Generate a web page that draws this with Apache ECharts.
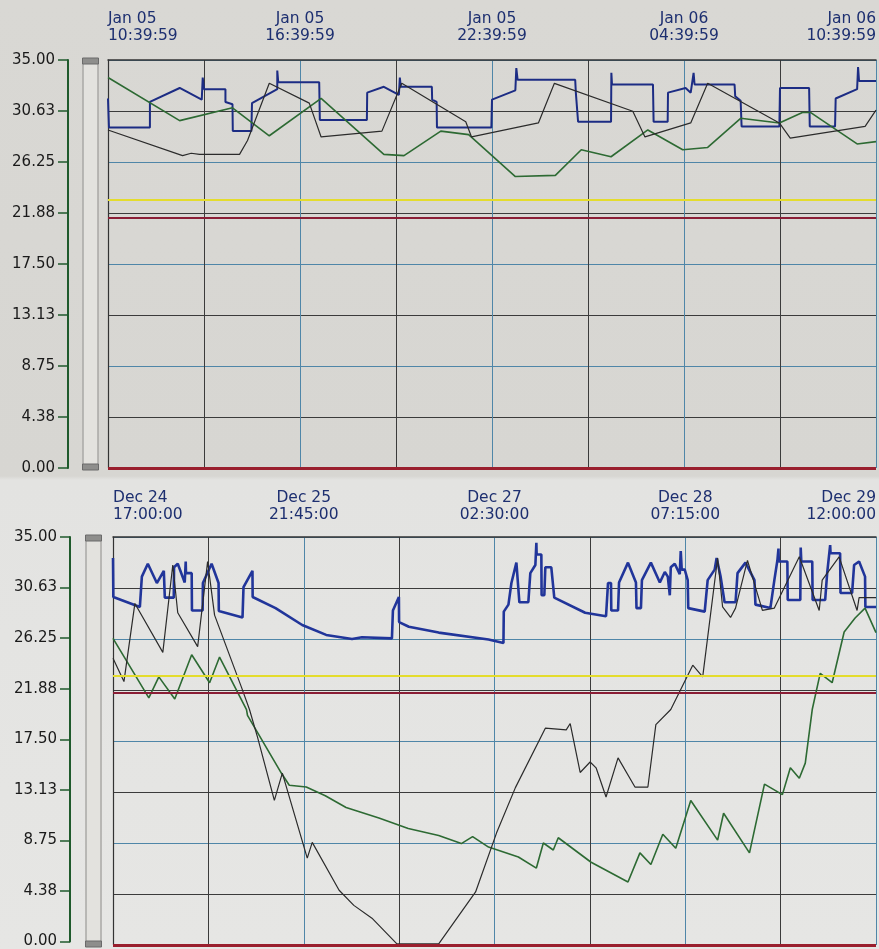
<!DOCTYPE html>
<html>
<head>
<meta charset="utf-8">
<script src="https://cdn.jsdelivr.net/npm/echarts@6/dist/echarts.min.js"></script>
<style>
html, body { margin: 0; padding: 0; }
#chart { width: 879px; height: 949px; background: linear-gradient(#d9d8d4 0, #d7d6d2 476px, #e3e3e1 480px, #e6e6e4 949px); }
</style>
</head>
<body>
<div id="chart"></div>
<script>
// tick labels (x = hours from first label)
const topTickLabels = ['Jan 05\n10:39:59', 'Jan 05\n16:39:59', 'Jan 05\n22:39:59', 'Jan 06\n04:39:59', 'Jan 06\n10:39:59'];
const bottomTickLabels = ['Dec 24\n17:00:00', 'Dec 25\n21:45:00', 'Dec 27\n02:30:00', 'Dec 28\n07:15:00', 'Dec 29\n12:00:00'];
const topLabelStep = 6;       // hours between labels
const bottomLabelStep = 28.75;

// reference levels
const topLimits = [23.0, 21.5, 0];
const bottomLimits = [23.1, 21.6, 0];

// top panel (Jan 05 - Jan 06)
const topBlue = [
  [0, 31.7], [0.03, 29.2], [1.31, 29.2], [1.31, 31.4], [2.24, 32.6], [2.93, 31.6], [2.96, 33.5], [3.0, 32.5],
  [3.67, 32.5], [3.67, 31.4], [3.89, 31.2], [3.9, 28.9], [4.48, 28.9], [4.5, 31.3], [5.29, 32.5], [5.29, 34.1],
  [5.32, 33.1], [6.6, 33.1], [6.62, 29.85], [8.09, 29.85], [8.1, 32.2], [8.62, 32.7], [9.09, 32.0], [9.12, 33.5],
  [9.15, 32.7], [10.12, 32.7], [10.13, 31.6], [10.27, 31.4], [10.28, 29.2], [11.98, 29.2], [12.0, 31.6], [12.73, 32.4],
  [12.76, 34.3], [12.8, 33.3], [14.6, 33.3], [14.62, 32.2], [14.69, 29.7], [15.72, 29.7], [15.73, 33.9], [15.75, 32.9],
  [17.03, 32.9], [17.05, 29.7], [17.49, 29.7], [17.5, 32.2], [18.05, 32.6], [18.21, 32.2], [18.3, 33.9], [18.33, 32.9],
  [19.58, 32.9], [19.6, 31.9], [19.77, 31.5], [19.8, 29.3], [20.98, 29.3], [21.0, 32.6], [21.91, 32.6], [21.93, 29.3],
  [22.72, 29.3], [22.74, 31.7], [23.41, 32.5], [23.44, 34.4], [23.47, 33.2], [24, 33.2]
];
const topBlack = [
  [0, 29.0], [2.33, 26.8], [2.6, 27.0], [2.86, 26.9], [4.11, 26.9], [4.36, 28.1], [5.04, 33.0], [6.29, 31.3],
  [6.66, 28.4], [8.56, 28.9], [9.18, 33.0], [11.18, 29.7], [11.36, 28.4], [13.45, 29.6], [13.95, 33.0], [16.4, 30.6],
  [16.78, 28.4], [18.21, 29.6], [18.74, 33.0], [20.98, 29.6], [21.32, 28.3], [23.66, 29.3], [24, 30.7]
];
const topGreen = [
  [0, 33.5], [2.24, 29.8], [3.89, 30.9], [5.04, 28.5], [6.66, 31.7], [8.62, 26.9], [9.25, 26.8], [10.4, 28.9],
  [11.27, 28.6], [12.73, 25.0], [13.98, 25.1], [14.79, 27.3], [15.72, 26.7], [16.87, 29.0], [17.96, 27.3], [18.74, 27.5],
  [19.77, 30.0], [20.98, 29.6], [21.7, 30.5], [21.95, 30.5], [23.41, 27.8], [24, 28.0]
];

// bottom panel (Dec 24 - Dec 29)
const bottomBlue = [
  [0, 33.2], [0.05, 29.85], [4.05, 29.0], [4.35, 31.6], [5.25, 32.7], [6.61, 31.05], [7.66, 32.1], [7.81, 29.8],
  [9.16, 29.8], [9.2, 32.4], [9.76, 32.7], [10.81, 31.1], [10.96, 32.9], [11.0, 31.9], [11.86, 31.9], [11.9, 28.7],
  [13.51, 28.7], [13.55, 31.05], [14.86, 32.7], [15.91, 31.05], [15.95, 28.65], [19.52, 28.1], [19.67, 30.7], [21.02, 32.1],
  [21.05, 29.85], [24.5, 28.9], [28.52, 27.45], [32.13, 26.6], [36.03, 26.25], [37.53, 26.4], [42.04, 26.3], [42.19, 28.7],
  [43.09, 29.85], [43.12, 27.7], [44.59, 27.3], [49.09, 26.8], [56.6, 26.2], [58.85, 25.9], [58.9, 28.6], [59.6, 29.2],
  [60.05, 31.05], [60.8, 32.8], [61.25, 29.4], [62.6, 29.4], [62.9, 31.9], [63.66, 32.6], [63.81, 34.5], [63.85, 33.5],
  [64.56, 33.5], [64.6, 30.0], [65.01, 30.0], [65.16, 32.4], [66.06, 32.4], [66.51, 29.8], [71.16, 28.5], [74.31, 28.2],
  [74.61, 31.05], [75.06, 31.05], [75.1, 28.7], [76.12, 28.7], [76.27, 31.1], [77.62, 32.8], [78.82, 31.1], [78.9, 28.9],
  [79.57, 28.9], [79.72, 31.3], [81.07, 32.8], [82.42, 31.1], [83.17, 32.0], [83.62, 31.6], [83.92, 30.0], [84.07, 32.4],
  [84.67, 32.7], [85.42, 31.8], [85.57, 33.8], [85.72, 32.2], [86.17, 32.2], [86.62, 31.3], [86.7, 28.9], [89.18, 28.6],
  [89.63, 31.3], [90.68, 32.2], [90.98, 33.2], [91.58, 31.6], [92.18, 29.4], [93.83, 29.4], [94.13, 31.9], [95.33, 32.8],
  [96.68, 31.3], [96.83, 29.2], [99.08, 28.9], [99.68, 31.3], [100.14, 33.0], [100.3, 34.0], [100.35, 32.9], [101.64, 32.9],
  [101.7, 29.6], [103.59, 29.6], [103.65, 34.1], [103.74, 32.9], [105.39, 32.9], [105.45, 29.6], [107.34, 29.6], [107.64, 31.9],
  [108.09, 34.3], [108.15, 33.6], [109.59, 33.6], [109.65, 30.2], [111.4, 30.2], [111.7, 32.6], [112.45, 32.9], [113.35, 31.6],
  [113.4, 29.0], [115, 29.0]
];
const bottomBlack = [
  [0, 24.6], [1.65, 22.6], [3.3, 29.3], [7.51, 25.1], [9.01, 32.6], [9.76, 28.5], [12.76, 25.6], [14.26, 32.9],
  [15.31, 28.3], [19.37, 22.1], [20.57, 20.2], [21.77, 17.85], [24.32, 12.4], [25.52, 14.75], [29.28, 7.45], [30.03, 8.8],
  [34.08, 4.7], [36.3, 3.4], [39.03, 2.3], [42.79, 0.1], [49.09, 0.1], [54.65, 4.55], [57.8, 9.6], [60.65, 13.5],
  [65.16, 18.6], [68.31, 18.45], [68.91, 19.0], [70.41, 14.8], [71.91, 15.7], [72.81, 15.2], [74.31, 12.7], [76.12, 16.05],
  [78.67, 13.55], [80.62, 13.55], [81.82, 18.9], [84.07, 20.2], [87.38, 24.0], [88.88, 23.0], [91.13, 33.2], [91.88, 29.0],
  [93.08, 28.1], [93.83, 28.9], [95.63, 33.0], [97.88, 28.7], [99.68, 28.9], [103.44, 33.3], [106.44, 28.7], [106.89, 31.3],
  [109.44, 33.3], [112.15, 28.7], [112.45, 29.8], [115, 29.8]
];
const bottomGreen = [
  [0, 26.3], [5.4, 21.2], [6.91, 23.0], [9.31, 21.1], [11.86, 24.9], [14.56, 22.5], [16.06, 24.7], [20.12, 20.2],
  [20.27, 19.7], [25.37, 14.75], [26.57, 13.7], [29.13, 13.55], [32.0, 12.8], [35.13, 11.8], [40.08, 10.9], [44.5, 10.0],
  [49.09, 9.4], [52.5, 8.7], [54.2, 9.3], [56.6, 8.4], [61.1, 7.55], [63.81, 6.6], [64.86, 8.75], [66.36, 8.15],
  [67.11, 9.2], [72.06, 7.1], [77.62, 5.4], [79.42, 7.9], [81.07, 6.9], [82.87, 9.5], [84.82, 8.3], [87.08, 12.4],
  [91.13, 9.0], [92.03, 11.3], [95.93, 7.9], [98.19, 13.8], [100.89, 12.9], [102.09, 15.2], [103.44, 14.3], [104.34, 15.6],
  [105.39, 20.2], [106.59, 23.3], [108.39, 22.5], [110.2, 26.85], [111.85, 28.05], [113.35, 28.9], [115, 26.8]
];

const gridDark = '#3b3b3b';
const gridBlue = '#4f86a8';
const axisGreen = '#1f5a2c';
const labelFont = 'DejaVu Sans';

function tickLabel(labels, step) {
    return function (v) {
        const i = Math.round(v / step);
        return Math.abs(i * step - v) < 1e-6 ? labels[i] : '';
    };
}

function timeAxis(gridIndex, max, interval, labels, step, margin) {
    return {
        gridIndex: gridIndex, type: 'value', position: 'top', min: 0, max: max, interval: interval,
        axisLine: { show: true, onZero: false, lineStyle: { color: '#333', width: 1.5 } },
        axisTick: { show: false },
        axisLabel: {
            margin: margin, color: '#1d2f70', fontFamily: labelFont, fontSize: 15.5, lineHeight: 17,
            formatter: tickLabel(labels, step), alignMinLabel: 'left', alignMaxLabel: 'right'
        },
        splitLine: { show: true, lineStyle: { color: [gridBlue, gridDark], width: 1 } }
    };
}

// plot area axis: only the grid lines and the left border
function plotAxis(gridIndex) {
    return {
        gridIndex: gridIndex, type: 'value', min: 0, max: 35, interval: 4.375,
        axisLine: { show: true, lineStyle: { color: '#333', width: 1.2 } },
        axisTick: { show: false }, axisLabel: { show: false },
        splitLine: { show: true, lineStyle: { color: [gridBlue, gridDark], width: 1 } }
    };
}

// green scale to the left of the scroll bar
function scaleAxis(gridIndex) {
    return {
        gridIndex: gridIndex, type: 'value', min: 0, max: 35, interval: 4.375,
        axisLine: { show: true, lineStyle: { color: axisGreen, width: 2 } },
        axisTick: { show: true, length: 10, lineStyle: { color: axisGreen, width: 1.5 } },
        axisLabel: { margin: 13, color: '#1a1a1a', fontFamily: labelFont, fontSize: 15, formatter: v => v.toFixed(2) },
        splitLine: { show: false }
    };
}

function trace(xi, yi, data, color, width, z) {
    return {
        type: 'line', xAxisIndex: xi, yAxisIndex: yi, data: data, symbol: 'none', z: z,
        lineStyle: { color: color, width: width }, itemStyle: { color: color }, silent: true
    };
}

function limits(xi, yi, levels) {
    const colors = ['#e4dc2c', '#8a1d35', '#9a1f2e'];
    const widths = [2, 2, 3];
    return {
        type: 'line', xAxisIndex: xi, yAxisIndex: yi, data: [], z: 1, silent: true,
        markLine: {
            symbol: 'none', silent: true, label: { show: false }, animation: false,
            data: levels.map((v, i) => ({ yAxis: v, lineStyle: { color: colors[i], width: widths[i], type: 'solid' } }))
        }
    };
}

function scroller(yAxisIndex, left, top) {
    return {
        type: 'slider', yAxisIndex: yAxisIndex, orient: 'vertical', left: left, top: top, width: 16, height: 408,
        filterMode: 'none', showDetail: false, showDataShadow: false, brushSelect: false, moveHandleSize: 0,
        zoomLock: true, start: 0, end: 100,
        backgroundColor: '#e3e2de', borderColor: '#8c8c8a', fillerColor: 'rgba(0,0,0,0)',
        handleIcon: 'path://M0,0H6V16H0Z', handleSize: '100%',
        handleStyle: { color: '#8e8e8c', borderColor: '#6a6a6a' }
    };
}

const chart = echarts.init(document.getElementById('chart'));
chart.setOption({
    animation: false,
    backgroundColor: 'transparent',
    grid: [
        { left: 108, top: 60, right: 0, height: 408 },
        { left: 113, top: 537, right: 0, height: 408 },
        { left: 68, top: 60, width: 40, height: 408 },
        { left: 70, top: 537, width: 43, height: 408 }
    ],
    xAxis: [
        timeAxis(0, 24, 3, topTickLabels, topLabelStep, 16),
        timeAxis(1, 115, 14.375, bottomTickLabels, bottomLabelStep, 14),
        { gridIndex: 2, type: 'value', show: false },
        { gridIndex: 3, type: 'value', show: false }
    ],
    yAxis: [plotAxis(0), plotAxis(1), scaleAxis(2), scaleAxis(3)],
    dataZoom: [scroller(0, 82, 60), scroller(1, 85, 537)],
    series: [
        limits(0, 0, topLimits),
        trace(0, 0, topGreen, '#2d6a33', 1.6, 3),
        trace(0, 0, topBlack, '#2b2b2b', 1.2, 4),
        trace(0, 0, topBlue, '#1c2c84', 2, 2),
        limits(1, 1, bottomLimits),
        trace(1, 1, bottomGreen, '#2d6a33', 1.6, 3),
        trace(1, 1, bottomBlack, '#2b2b2b', 1.2, 4),
        trace(1, 1, bottomBlue, '#21359a', 2.6, 2)
    ]
});
</script>
</body>
</html>
